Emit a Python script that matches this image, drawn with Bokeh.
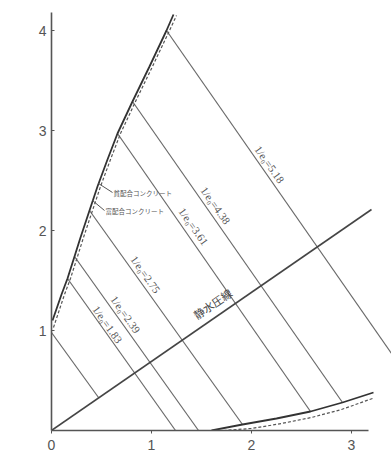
from bokeh.plotting import figure
from bokeh.models import Range1d, FixedTicker, Label
from bokeh.core.properties import value
from bokeh.embed import file_html
from bokeh.resources import INLINE

# ---- axis ticks ----
x_ticks = [0, 1, 2, 3]
y_ticks = [1, 2, 3, 4]

# ---- failure envelopes: upper branch (sigma1 large) ----
rich_upper_x = [0.01, 0.10, 0.16, 0.23, 0.29, 0.38, 0.46, 0.56, 0.66, 0.81, 0.98, 1.15, 1.22]
rich_upper_y = [1.10, 1.36, 1.52, 1.74, 1.93, 2.20, 2.44, 2.71, 2.97, 3.29, 3.64, 4.00, 4.16]
lean_upper_x = [0.02, 0.13, 0.19, 0.26, 0.32, 0.41, 0.49, 0.59, 0.69, 0.84, 1.01, 1.18, 1.25]
lean_upper_y = [1.03, 1.36, 1.52, 1.74, 1.93, 2.20, 2.44, 2.71, 2.97, 3.29, 3.64, 4.00, 4.15]

# ---- failure envelopes: lower branch (sigma2 = sigma3 large) ----
rich_lower_x = [1.60, 1.91, 2.25, 2.59, 2.91, 3.22]
rich_lower_y = [0.00, 0.06, 0.12, 0.19, 0.28, 0.38]
lean_lower_x = [1.72, 2.00, 2.30, 2.60, 2.90, 3.21]
lean_lower_y = [0.00, 0.02, 0.07, 0.13, 0.21, 0.32]

# ---- hydrostatic axis ----
hydro_x = [0.0, 3.20]
hydro_y = [0.0, 2.21]

# ---- constant 1/e0 lines (start on envelope, end on axis / envelope) ----
iso_x0 = [0.00, 0.16, 0.23, 0.38, 0.66, 0.81, 1.15]
iso_y0 = [0.98, 1.52, 1.74, 2.20, 2.97, 3.29, 4.00]
iso_x1 = [0.47, 1.24, 1.47, 1.91, 2.59, 2.91, 3.40]
iso_y1 = [0.33, 0.00, 0.00, 0.06, 0.19, 0.28, 0.77]

iso_labels = ["1/e₀=1.83", "1/e₀=2.39", "1/e₀=2.75", "1/e₀=3.61", "1/e₀=4.38", "1/e₀=5.18"]
iso_label_x = [0.56, 0.74, 0.94, 1.42, 1.64, 2.18]
iso_label_y = [1.06, 1.16, 1.56, 2.04, 2.25, 2.66]

p = figure(width=391, height=473,
           x_range=Range1d(0, 3.40), y_range=Range1d(0, 4.30),
           output_backend="svg", toolbar_location=None,
           min_border_left=51, min_border_right=0,
           min_border_top=0, min_border_bottom=43)
p.outline_line_color = None
p.grid.visible = False
p.background_fill_color = "white"
p.border_fill_color = "white"

ax_col = "#555555"
for ax, ticks, bnds in ((p.xaxis, x_ticks, (0, 3.17)), (p.yaxis, y_ticks, (0, 4.18))):
    ax.ticker = FixedTicker(ticks=ticks)
    ax.bounds = bnds
    ax.axis_line_color = ax_col
    ax.axis_line_width = 1.6
    ax.major_tick_line_color = ax_col
    ax.minor_tick_line_color = None
    ax.major_label_text_font = "Liberation Sans"
    ax.major_label_text_font_size = "14px"
    ax.major_label_text_color = "#555555"
p.xaxis.major_tick_in = 0
p.xaxis.major_tick_out = 3
p.xaxis.major_label_standoff = 6
p.yaxis.major_tick_in = 3
p.yaxis.major_tick_out = 0
p.yaxis.major_label_standoff = 5

# constant 1/e0 lines
p.segment(x0=iso_x0, y0=iso_y0, x1=iso_x1, y1=iso_y1,
          line_color="#6a6a6a", line_width=1.2)

# hydrostatic axis
p.line(hydro_x, hydro_y, line_color="#454545", line_width=1.6)

# envelopes
p.line(rich_upper_x, rich_upper_y, line_color="#333333", line_width=1.8)
p.line(lean_upper_x, lean_upper_y, line_color="#555555", line_width=1.2, line_dash="3 2")
p.line(rich_lower_x, rich_lower_y, line_color="#333333", line_width=1.8)
p.line(lean_lower_x, lean_lower_y, line_color="#555555", line_width=1.2, line_dash="3 2")

# leaders to the envelope names
p.segment(x0=[0.61, 0.53], y0=[2.38, 2.20], x1=[0.47, 0.41], y1=[2.47, 2.30],
          line_color="#555555", line_width=1.0)

# labels on the 1/e0 lines
p.text(x=iso_label_x, y=iso_label_y, text=iso_labels, angle=-0.955,
       text_align="center", text_baseline="middle",
       text_font=value("Liberation Serif"), text_font_size="11px",
       text_color="#555555")

# hydrostatic label
p.text(x=[1.61], y=[1.27], text=["静水圧線"], angle=0.60,
       text_align="center", text_baseline="middle",
       text_font=value("Noto Sans CJK JP"), text_font_size="11px",
       text_color="#444444")

# envelope names
p.text(x=[0.62, 0.54], y=[2.38, 2.20], text=["貧配合コンクリート", "富配合コンクリート"],
       text_align="left", text_baseline="middle",
       text_font=value("Noto Sans CJK JP"), text_font_size="6.5px",
       text_color="#555555")

# axis titles
p.add_layout(Label(x=1.49, y=-0.30, text="√2 σ₂/σ₀=√2 σ₃/σ₀",
                   text_align="center", text_baseline="middle",
                   text_font="Liberation Serif", text_font_size="15px",
                   text_color="#444444"))
p.add_layout(Label(x=-0.29, y=2.30, text="σ₁", text_align="center", text_baseline="middle",
                   text_font="Liberation Serif", text_font_size="14px", text_color="#444444"))
p.add_layout(Label(x=-0.29, y=2.22, text="—", text_align="center", text_baseline="middle",
                   text_font="Liberation Serif", text_font_size="15px", text_color="#444444"))
p.add_layout(Label(x=-0.29, y=2.13, text="σ₀", text_align="center", text_baseline="middle",
                   text_font="Liberation Serif", text_font_size="14px", text_color="#444444"))

open("out.html", "w").write(file_html(p, INLINE))
